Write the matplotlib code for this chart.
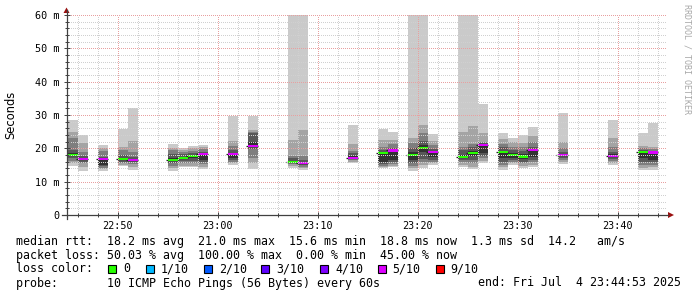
import matplotlib
matplotlib.use('Agg')
import matplotlib.pyplot as plt
from matplotlib.patches import Rectangle, Polygon
from matplotlib.lines import Line2D

# ---------------- data ----------------
times = ["22:45", "22:46", "22:48", "22:50", "22:51", "22:55", "22:56", "22:57", "22:58",
         "23:01", "23:03", "23:07", "23:08", "23:13", "23:16", "23:17", "23:19", "23:20",
         "23:21", "23:24", "23:25", "23:26", "23:28", "23:29", "23:30", "23:31", "23:34",
         "23:39", "23:42", "23:43"]
# sorted ping round trip times (ms), ping01 = fastest ... ping10 = slowest
ping01 = [14.8, 13.3, 13.3, 14.6, 13.5, 13.3, 14.3, 14.3, 13.8, 15.1, 13.8, 14.0, 13.5, 15.5, 14.0,
          14.3, 13.3, 14.2, 15.0, 14.5, 13.8, 15.5, 13.5, 15.0, 14.1, 14.5, 15.3, 15.0, 13.4, 13.5]
ping02 = [15.5, 14.5, 13.8, 15.0, 14.5, 14.0, 14.8, 14.8, 14.5, 15.6, 15.5, 14.8, 14.0, 16.0, 14.5,
          14.7, 14.0, 15.0, 15.5, 15.0, 14.5, 16.2, 14.3, 15.5, 14.8, 15.0, 15.8, 15.6, 14.2, 14.3]
ping03 = [16.3, 15.5, 14.2, 15.5, 15.3, 14.8, 15.5, 15.5, 15.2, 16.0, 17.0, 15.3, 14.5, 16.4, 14.8,
          15.3, 14.8, 15.8, 16.0, 15.8, 15.5, 17.0, 15.0, 16.0, 15.5, 15.8, 16.5, 16.2, 15.0, 15.0]
ping04 = [17.0, 16.0, 14.6, 16.0, 15.8, 15.6, 16.2, 16.3, 15.8, 16.5, 19.8, 15.6, 15.0, 16.8, 15.3,
          15.8, 15.5, 16.8, 16.5, 16.5, 16.5, 17.8, 15.8, 16.5, 16.0, 16.5, 17.2, 16.8, 15.8, 15.8]
ping05 = [17.6, 16.6, 15.0, 16.5, 16.2, 16.3, 16.8, 17.0, 16.5, 17.0, 20.3, 15.8, 15.3, 17.0, 16.0,
          16.5, 16.5, 19.0, 17.3, 17.0, 17.8, 18.5, 17.0, 17.2, 16.8, 17.5, 17.7, 17.3, 17.0, 16.5]
ping06 = [18.6, 17.2, 16.8, 17.2, 16.8, 17.0, 17.4, 17.8, 18.3, 18.3, 22.0, 16.2, 15.8, 17.8, 19.0,
          19.4, 18.8, 21.0, 19.0, 18.0, 19.3, 20.7, 19.2, 18.5, 18.3, 19.5, 18.3, 18.3, 18.7, 18.6]
ping07 = [19.5, 17.8, 17.5, 18.0, 17.5, 18.3, 18.2, 18.5, 19.0, 19.5, 24.5, 17.0, 16.5, 18.5, 19.5,
          20.2, 20.0, 22.2, 19.8, 19.5, 20.3, 21.5, 20.3, 19.5, 19.3, 20.5, 19.0, 19.0, 19.5, 19.2]
ping08 = [23.2, 19.0, 19.2, 19.5, 19.0, 19.5, 19.0, 19.3, 19.8, 20.8, 25.0, 17.7, 17.7, 19.3, 20.5,
          21.3, 21.5, 24.5, 21.0, 20.5, 21.2, 22.0, 21.2, 20.5, 20.5, 22.0, 20.0, 20.5, 20.2, 19.7]
ping09 = [25.0, 21.7, 20.0, 20.5, 22.2, 20.2, 19.6, 20.0, 20.4, 22.2, 25.5, 22.5, 25.5, 21.3, 22.5,
          22.5, 23.2, 27.0, 22.3, 25.0, 26.8, 24.5, 22.7, 21.8, 21.6, 23.8, 22.0, 23.0, 20.8, 20.5]
ping10 = [28.5, 24.0, 21.0, 25.8, 32.2, 21.3, 20.2, 20.8, 21.0, 29.8, 29.8, 65.0, 65.0, 27.0, 25.7,
          25.0, 65.0, 65.0, 24.3, 65.0, 65.0, 33.3, 24.6, 23.2, 23.9, 26.4, 30.5, 28.5, 24.7, 27.7]
median = [18.0, 16.9, 16.8, 16.9, 16.5, 16.6, 17.2, 17.7, 18.3, 18.3, 20.8, 16.0, 15.6, 17.1, 18.7,
          19.4, 18.0, 20.1, 19.0, 17.4, 18.6, 21.0, 18.9, 18.0, 17.6, 19.5, 18.0, 17.7, 18.9, 18.8]
loss = [0, 5, 5, 0, 5, 0, 0, 0, 5, 5, 5, 0, 5, 5, 0, 5, 0, 0, 5, 0, 0, 5, 0, 0, 0, 5, 5, 5, 0, 5]

loss_labels = ["0", "1/10", "2/10", "3/10", "4/10", "5/10", "9/10"]
loss_colors = ["#26ff00", "#00b8ff", "#0059ff", "#5e00ff", "#7e00ff", "#dd00ff", "#ff0000"]
loss_levels = [0, 1, 2, 3, 4, 5, 9]

x_ticks = ["22:50", "23:00", "23:10", "23:20", "23:30", "23:40"]
y_ticks = [0, 10, 20, 30, 40, 50, 60]

legend_rows = [
    "median rtt:  18.2 ms avg  21.0 ms max  15.6 ms min  18.8 ms now  1.3 ms sd  14.2   am/s",
    "packet loss: 50.03 % avg  100.00 % max  0.00 % min  45.00 % now",
    "loss color:",
    "probe:       10 ICMP Echo Pings (56 Bytes) every 60s",
]
end_text = "end: Fri Jul  4 23:44:53 2025"

# ---------------- figure ----------------
W, H = 697, 297
fig = plt.figure(figsize=(W / 100, H / 100), dpi=100)
fig.patch.set_facecolor("white")


def fx(px):
    return px / W


def fy(py):
    return 1 - py / H


def tmin(s):
    h, m = s.split(":")
    return (int(h) - 22) * 60 + int(m)


x0 = 44 + 53 / 60.0
x1 = x0 + 60
ax = fig.add_axes([fx(66.5), fy(215), fx(600), 200 / H])
ax.set_xlim(x0, x1)
ax.set_ylim(0, 60)
for s in ax.spines.values():
    s.set_visible(False)

pings = [ping01, ping02, ping03, ping04, ping05, ping06, ping07, ping08, ping09, ping10]
band_colors = ["#cacaca", "#a4a4a4", "#7e7e7e", "#585858", "#323232"]
xs = [tmin(t) for t in times]
for k in range(5):
    lo = pings[k]
    hi = pings[9 - k]
    ax.bar(xs, [min(h, 61) - l for h, l in zip(hi, lo)], bottom=lo, width=1.0,
           align="edge", color=band_colors[k], linewidth=0, zorder=1.0 + 0.1 * k)

col_of = dict(zip(loss_levels, loss_colors))
for x, m, l in zip(xs, median, loss):
    ax.hlines(m, x - 0.15, x + 1, color="#202020", lw=0.9, zorder=1.6)
    ax.bar([x], [0.7], bottom=m - 0.35, width=1.0, align="edge",
           color=col_of[l], linewidth=0, zorder=1.7)

# grid on top of data
ax.set_axisbelow(False)
ax.set_xticks([tmin(t) for t in x_ticks])
ax.set_xticklabels(x_ticks)
ax.set_xticks(list(range(46, 105, 2)), minor=True)
ax.set_yticks(y_ticks)
ax.set_yticklabels(["0"] + ["%d m" % v for v in y_ticks[1:]])
ax.set_yticks(list(range(2, 60, 2)), minor=True)
ax.grid(which="minor", color="#d0d0d0", linestyle=(0, (1, 2)), linewidth=0.72,
        antialiased=False)
ax.grid(which="major", color="#e8a0a0", linestyle=(0, (1, 2)), linewidth=0.72,
        antialiased=False)
ax.tick_params(which="both", direction="inout", color="#404040", width=0.7)
ax.tick_params(which="major", length=4)
ax.tick_params(which="minor", length=2.5)
ax.tick_params(axis="y", which="major", pad=3.0)
ax.tick_params(axis="x", which="major", pad=2.0)
for lab in ax.get_xticklabels() + ax.get_yticklabels():
    lab.set_fontfamily("DejaVu Sans Mono")
    lab.set_fontsize(7.3)

# axes lines with arrows
fig.add_artist(Line2D([fx(66.5), fx(66.5)], [fy(219), fy(10)], color="#404040", lw=0.9))
fig.add_artist(Line2D([fx(62), fx(668)], [fy(215), fy(215)], color="#404040", lw=0.9))
fig.add_artist(Polygon([(fx(63.5), fy(13)), (fx(69.5), fy(13)), (fx(66.5), fy(7.5))],
                       closed=True, color="#9a1010", lw=0))
fig.add_artist(Polygon([(fx(668), fy(212)), (fx(668), fy(218)), (fx(674), fy(215))],
                       closed=True, color="#9a1010", lw=0))

# labels
fig.text(fx(11), fy(115), "Seconds", rotation=90, ha="center", va="center",
         fontsize=8.3, family="DejaVu Sans")
fig.text(fx(687.5), fy(4), "RRDTOOL / TOBI OETIKER", rotation=270, ha="center", va="top",
         fontsize=6.0, family="DejaVu Sans Mono", color="#a8a8a8")

mono = dict(family="DejaVu Sans Mono", fontsize=8.4, va="center", ha="left")
row_y = [241, 255, 269, 283]
for txt, y in zip(legend_rows, row_y):
    fig.text(fx(16), fy(y), txt, **mono)
fig.text(fx(681), fy(283), end_text, family="DejaVu Sans Mono", fontsize=8.4,
         va="center", ha="right")

sq_x = [108, 145.5, 204, 261, 320, 377.5, 435.5]
for sx, lab, c in zip(sq_x, loss_labels, loss_colors):
    fig.add_artist(Rectangle((fx(sx), fy(273)), fx(8), 8 / H, facecolor=c,
                             edgecolor="black", lw=0.8))
    fig.text(fx(sx + 15), fy(269), lab, **mono)

fig.savefig("out.png", dpi=100, facecolor="white")
